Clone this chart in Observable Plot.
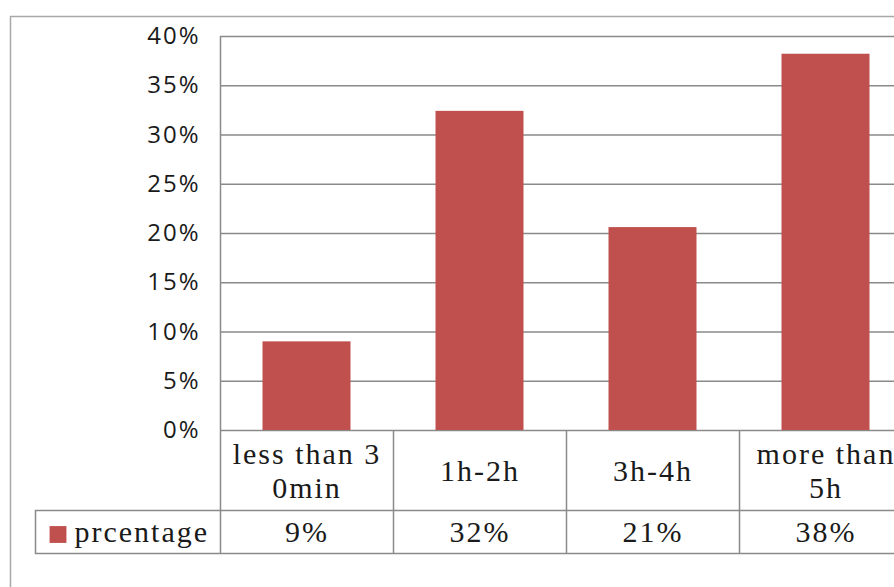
<!DOCTYPE html>
<html><head><meta charset="utf-8">
<script src="https://cdn.jsdelivr.net/npm/d3@7"></script>
<script src="https://cdn.jsdelivr.net/npm/@observablehq/plot@0.6"></script>
<style>
html,body{margin:0;padding:0;background:#fff;overflow:hidden}
g[font-family="Liberation Serif"]{letter-spacing:2px}
g[aria-label="y-axis tick label"]{letter-spacing:2px}
</style></head><body><div id="chart"></div>
<script>
// Data
const categories = ["less than 30min", "1h-2h", "3h-4h", "more than 5h"];
const headerLabels = ["less than 3\n0min", "1h-2h", "3h-4h", "more than\n5h"];
const values = [0.090, 0.324, 0.206, 0.382];
const seriesName = "prcentage";
const yTicks = [0, 0.05, 0.10, 0.15, 0.20, 0.25, 0.30, 0.35, 0.40];

const barColor = "#C0504D";
const lineColor = "#8a8a8a";
const pct = d3.format(".0%");
const rows = categories.map((c, i) => ({category: c, label: headerLabels[i], value: values[i]}));

const chart = Plot.plot({
  width: 894,
  height: 587,
  marginLeft: 220,
  marginRight: 0,
  marginTop: 36,
  marginBottom: 34,
  style: {background: "#fff", overflow: "hidden", color: "#1a1a1a"},
  x: {type: "band", domain: categories, range: [220, 912], padding: 0, axis: null},
  y: {domain: [0, 0.4], range: [430, 36], axis: null},
  marks: [
    // outer chart border
    Plot.frame({stroke: "#a8a8a8", strokeWidth: 1.5, insetLeft: -210, insetTop: -20, insetRight: -30, insetBottom: -60}),
    // gridlines
    Plot.gridY(yTicks, {stroke: lineColor, strokeOpacity: 1, strokeWidth: 1.5}),
    // bars
    Plot.barY(rows, {x: "category", y: "value", fill: barColor, insetLeft: 42.5, insetRight: 42.5}),
    // y axis
    Plot.axisY(yTicks, {tickSize: 0, tickPadding: 20, tickFormat: pct, fontSize: 24, fontFamily: "Open Sans", label: null, fill: "#1a1a1a"}),
    // axis line + data table
    Plot.ruleX([categories[0]], {x: d => d, dx: -86.5, stroke: lineColor, strokeWidth: 1.5}),
    Plot.ruleX(categories.slice(1), {x: d => d, dx: -86.5, insetTop: 394, stroke: lineColor, strokeWidth: 1.5}),
    Plot.frame({stroke: lineColor, strokeWidth: 1.5, insetTop: 474, insetLeft: -185, insetRight: -10}),
    // header row
    Plot.text(rows, {x: "category", y: null, text: "label", frameAnchor: "bottom", lineAnchor: "middle", dy: -83, fontFamily: "Liberation Serif", fontSize: 30, lineHeight: 1.13, fill: "#1a1a1a"}),
    // values row
    Plot.text(rows, {x: "category", y: null, text: d => pct(d.value), frameAnchor: "bottom", lineAnchor: "middle", dy: -21, fontFamily: "Liberation Serif", fontSize: 30, fill: "#1a1a1a"}),
    // legend key
    Plot.dot([seriesName], {x: null, y: null, frameAnchor: "bottom-left", dx: -162.5, dy: -19, symbol: "square", r: 9.5, fill: barColor, stroke: null}),
    Plot.text([seriesName], {x: null, y: null, text: d => d, frameAnchor: "bottom-left", lineAnchor: "middle", dx: -146, dy: -21, textAnchor: "start", fontFamily: "Liberation Serif", fontSize: 30, fill: "#1a1a1a"})
  ]
});
document.getElementById("chart").append(chart);
</script></body></html>
